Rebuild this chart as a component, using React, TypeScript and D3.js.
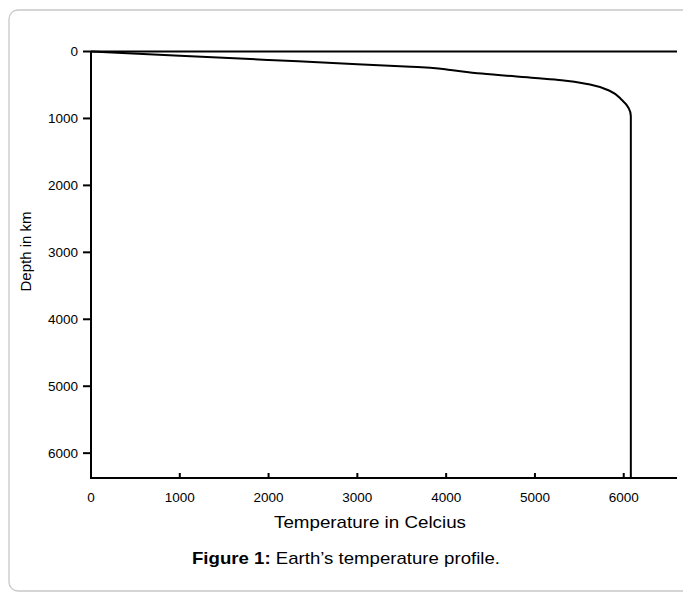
import React from "react";
import * as d3 from "d3";

const temperatures = [0, 1000, 2000, 3000, 3600, 3820, 4050, 4400, 5000, 5300, 5620, 5845, 5980, 6055, 6080, 6080];
const depths = [0, 63, 126, 189, 227, 241, 276, 329, 395, 428, 493, 590, 725, 844, 964, 6371];
const xTicks = [0, 1000, 2000, 3000, 4000, 5000, 6000];
const yTicks = [0, 1000, 2000, 3000, 4000, 5000, 6000];

const W = 683;
const H = 592;
const left = 91;
const right = 677;
const top = 51.5;
const bottom = 478;
const font = "'Liberation Sans', Arial, sans-serif";

export default function App() {
  const x = d3.scaleLinear().domain([0, 6600]).range([left, right]);
  const y = d3.scaleLinear().domain([0, 6371]).range([top, bottom]);
  const pts = temperatures.map((t, i) => [t, depths[i]] as [number, number]);
  const line = d3
    .line<[number, number]>()
    .x((d) => x(d[0]))
    .y((d) => y(d[1]))
    .curve(d3.curveMonotoneY);

  return (
    <svg
      width={W}
      height={H}
      style={{ position: "absolute", left: 0, top: 0 }}
      fontFamily={font}
    >
      <rect x={9} y={10} width={720} height={581} rx={9} fill="#fff" stroke="#c8c8c8" strokeWidth={1.3} />
      <line x1={left} x2={right} y1={y(0)} y2={y(0)} stroke="#000" strokeWidth={2} />
      <line x1={left} x2={left} y1={y(0)} y2={bottom} stroke="#000" strokeWidth={2} />
      {yTicks.map((t) => (
        <g key={"y" + t}>
          <line x1={left - 8} x2={left} y1={y(t)} y2={y(t)} stroke="#000" strokeWidth={2} />
          <text x={left - 13} y={y(t)} dy="0.35em" textAnchor="end" fontSize={13.5} fill="#000">
            {t}
          </text>
        </g>
      ))}
      <line x1={left - 1} x2={right} y1={bottom} y2={bottom} stroke="#000" strokeWidth={2} />
      {xTicks.map((t) => (
        <g key={"x" + t}>
          {t > 0 && <line x1={x(t)} x2={x(t)} y1={bottom - 5} y2={bottom} stroke="#000" strokeWidth={2} />}
          <text x={x(t)} y={497} dy="0.35em" textAnchor="middle" fontSize={13.5} fill="#000">
            {t}
          </text>
        </g>
      ))}
      <path d={line(pts) || ""} fill="none" stroke="#000" strokeWidth={2} />
      <text
        x={274}
        y={522}
        dy="0.35em"
        fontSize={17}
        textLength={192}
        lengthAdjust="spacingAndGlyphs"
        fill="#000"
      >
        Temperature in Celcius
      </text>
      <text
        transform={`translate(26,251.5) rotate(-90)`}
        dy="0.35em"
        textAnchor="middle"
        fontSize={15}
        fill="#000"
      >
        Depth in km
      </text>
      <text
        x={192}
        y={558}
        dy="0.35em"
        fontSize={17}
        textLength={308}
        lengthAdjust="spacingAndGlyphs"
        fill="#000"
      >
        <tspan fontWeight="bold">Figure 1:</tspan> Earth’s temperature profile.
      </text>
    </svg>
  );
}
